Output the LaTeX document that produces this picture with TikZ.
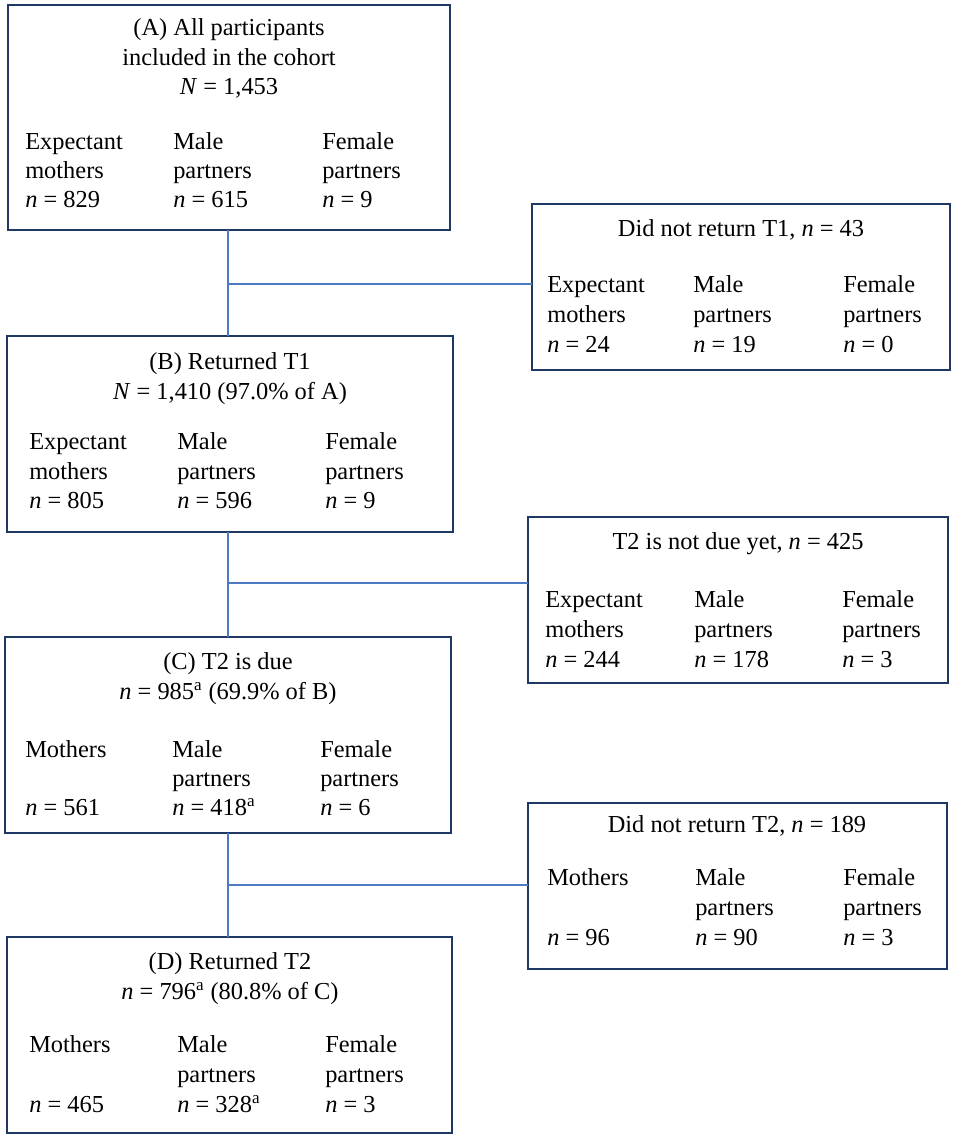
\documentclass[tikz,border=0pt]{standalone}
\usepackage{fontspec}
\setmainfont{Liberation Serif}
\definecolor{boxblue}{HTML}{1F3864}
\definecolor{lineblue}{HTML}{4A7BC4}
\newdimen\px \px=0.75pt
\begin{document}
\begin{tikzpicture}[x=0.75pt,y=-0.75pt,
  box/.style={draw=boxblue, line width=2.2pt, anchor=north west, inner sep=0pt, outer sep=0pt, fill=none},
  conn/.style={draw=lineblue, line width=1.4pt},
  txt/.style={anchor=base west, inner sep=0pt, font=\fontsize{18.3}{22}\selectfont},
  ttl/.style={anchor=base, inner sep=0pt, font=\fontsize{18.3}{22}\selectfont}]
\useasboundingbox[fill=white] (0,0) rectangle (957,1138);

% boxes
\node[box, minimum width=442\px, minimum height=225\px] (A) at (8,5) {};
\node[box, minimum width=418\px, minimum height=166\px] (T1) at (532,204) {};
\node[box, minimum width=446\px, minimum height=196\px] (B) at (7,336) {};
\node[box, minimum width=420\px, minimum height=166\px] (T2nd) at (528,517) {};
\node[box, minimum width=446\px, minimum height=196\px] (C) at (5,637) {};
\node[box, minimum width=419\px, minimum height=166\px] (T2nr) at (528,803) {};
\node[box, minimum width=445\px, minimum height=196\px] (D) at (7,937) {};

% connectors
\coordinate (j1) at (228,284);
\coordinate (j2) at (228,583);
\coordinate (j3) at (228,885);
\draw[conn] (A.south -| j1) -- (B.north -| j1);
\draw[conn] (j1) -- (j1 -| T1.west);
\draw[conn] (B.south -| j2) -- (C.north -| j2);
\draw[conn] (j2) -- (j2 -| T2nd.west);
\draw[conn] (C.south -| j3) -- (D.north -| j3);
\draw[conn] (j3) -- (j3 -| T2nr.west);

% Box A
\node[ttl] (At1) at (229,36) {(A) All participants};
\node[ttl] (At2) at (229,65) {included in the cohort};
\node[ttl] (At3) at (229,94) {\textit{N} = 1,453};
\node[txt] (Aa1) at (25,149) {Expectant};
\node[txt] (Aa2) at (25,178) {mothers};
\node[txt] (Aa3) at (25,207) {\textit{n} = 829};
\node[txt] (Ab1) at (173,149) {Male};
\node[txt] (Ab2) at (173,178) {partners};
\node[txt] (Ab3) at (173,207) {\textit{n} = 615};
\node[txt] (Ac1) at (322,149) {Female};
\node[txt] (Ac2) at (322,178) {partners};
\node[txt] (Ac3) at (322,207) {\textit{n} = 9};

% Box T1
\node[ttl] (T1t1) at (741,236) {Did not return T1, \textit{n} = 43};
\node[txt] (T1a1) at (547,292) {Expectant};
\node[txt] (T1a2) at (547,322) {mothers};
\node[txt] (T1a3) at (547,352) {\textit{n} = 24};
\node[txt] (T1b1) at (693,292) {Male};
\node[txt] (T1b2) at (693,322) {partners};
\node[txt] (T1b3) at (693,352) {\textit{n} = 19};
\node[txt] (T1c1) at (843,292) {Female};
\node[txt] (T1c2) at (843,322) {partners};
\node[txt] (T1c3) at (843,352) {\textit{n} = 0};

% Box B
\node[ttl] (Bt1) at (230,369) {(B) Returned T1};
\node[ttl] (Bt2) at (230,399) {\textit{N} = 1,410 (97.0\% of A)};
\node[txt] (Ba1) at (29,449) {Expectant};
\node[txt] (Ba2) at (29,479) {mothers};
\node[txt] (Ba3) at (29,508) {\textit{n} = 805};
\node[txt] (Bb1) at (177,449) {Male};
\node[txt] (Bb2) at (177,479) {partners};
\node[txt] (Bb3) at (177,508) {\textit{n} = 596};
\node[txt] (Bc1) at (325,449) {Female};
\node[txt] (Bc2) at (325,479) {partners};
\node[txt] (Bc3) at (325,508) {\textit{n} = 9};

% Box T2 not due
\node[ttl] (T2t1) at (738,549) {T2 is not due yet, \textit{n} = 425};
\node[txt] (T2a1) at (545,607) {Expectant};
\node[txt] (T2a2) at (545,637) {mothers};
\node[txt] (T2a3) at (545,667) {\textit{n} = 244};
\node[txt] (T2b1) at (694,607) {Male};
\node[txt] (T2b2) at (694,637) {partners};
\node[txt] (T2b3) at (694,667) {\textit{n} = 178};
\node[txt] (T2c1) at (842,607) {Female};
\node[txt] (T2c2) at (842,637) {partners};
\node[txt] (T2c3) at (842,667) {\textit{n} = 3};

% Box C
\node[ttl] (Ct1) at (228,669) {(C) T2 is due};
\node[ttl] (Ct2) at (228,699) {\textit{n} = 985\textsuperscript{a} (69.9\% of B)};
\node[txt] (Ca1) at (25,757) {Mothers};
\node[txt] (Ca3) at (25,815) {\textit{n} = 561};
\node[txt] (Cb1) at (172,757) {Male};
\node[txt] (Cb2) at (172,786) {partners};
\node[txt] (Cb3) at (172,815) {\textit{n} = 418\textsuperscript{a}};
\node[txt] (Cc1) at (320,757) {Female};
\node[txt] (Cc2) at (320,786) {partners};
\node[txt] (Cc3) at (320,815) {\textit{n} = 6};

% Box T2 not returned
\node[ttl] (T3t1) at (737,832) {Did not return T2, \textit{n} = 189};
\node[txt] (T3a1) at (547,885) {Mothers};
\node[txt] (T3a3) at (547,945) {\textit{n} = 96};
\node[txt] (T3b1) at (695,885) {Male};
\node[txt] (T3b2) at (695,915) {partners};
\node[txt] (T3b3) at (695,945) {\textit{n} = 90};
\node[txt] (T3c1) at (843,885) {Female};
\node[txt] (T3c2) at (843,915) {partners};
\node[txt] (T3c3) at (843,945) {\textit{n} = 3};

% Box D
\node[ttl] (Dt1) at (230,969) {(D) Returned T2};
\node[ttl] (Dt2) at (230,999) {\textit{n} = 796\textsuperscript{a} (80.8\% of C)};
\node[txt] (Da1) at (29,1052) {Mothers};
\node[txt] (Da3) at (29,1112) {\textit{n} = 465};
\node[txt] (Db1) at (177,1052) {Male};
\node[txt] (Db2) at (177,1082) {partners};
\node[txt] (Db3) at (177,1112) {\textit{n} = 328\textsuperscript{a}};
\node[txt] (Dc1) at (325,1052) {Female};
\node[txt] (Dc2) at (325,1082) {partners};
\node[txt] (Dc3) at (325,1112) {\textit{n} = 3};
\end{tikzpicture}
\end{document}
